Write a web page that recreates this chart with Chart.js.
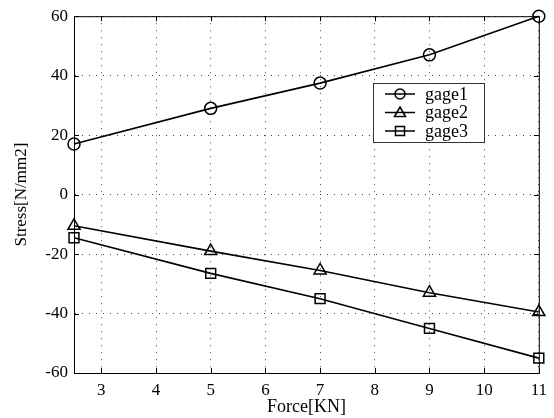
<!DOCTYPE html>
<html>
<head>
<meta charset="utf-8">
<script src="https://cdn.jsdelivr.net/npm/chart.js@4"></script>
<style>
  html, body { margin: 0; padding: 0; background: #fff; }
  #wrap { width: 554px; height: 418px; }
</style>
</head>
<body>
<div id="wrap"><canvas id="stressChart"></canvas></div>
<script>
const force = [2.5, 5, 7, 9, 11];
const gage1 = [17, 29, 37.5, 47, 60];
const gage2 = [-10.5, -19, -25.5, -33, -39.5];
const gage3 = [-14.5, -26.5, -35, -45, -55];
const seriesNames = ["gage1", "gage2", "gage3"];
const xTicks = [3, 4, 5, 6, 7, 8, 9, 10, 11];
const yTicks = [-60, -40, -20, 0, 20, 40, 60];

const serif = "'Liberation Serif', 'Times New Roman', serif";
const markers = ["circle", "triangle", "rect"];
const markerSize = [6, 7, 7];

function toPoints(ys) {
  return ys.map((y, i) => ({ x: force[i], y: y }));
}

// box round the plot, inward ticks on all four sides, legend inside the axes
const framePlugin = {
  id: "frame",
  afterDatasetsDraw(chart) {
    const { ctx, chartArea: a } = chart;
    const xs = chart.scales.x, ys = chart.scales.y;
    ctx.save();
    ctx.strokeStyle = "#000";
    ctx.lineWidth = 1;
    ctx.strokeRect(a.left + 0.5, a.top + 0.5, a.right - a.left, a.bottom - a.top);
    ctx.beginPath();
    xTicks.forEach((v) => {
      const px = Math.round(xs.getPixelForValue(v)) + 0.5;
      ctx.moveTo(px, a.bottom); ctx.lineTo(px, a.bottom - 5);
      ctx.moveTo(px, a.top); ctx.lineTo(px, a.top + 5);
    });
    yTicks.forEach((v) => {
      const py = Math.round(ys.getPixelForValue(v)) + 0.5;
      ctx.moveTo(a.left, py); ctx.lineTo(a.left + 5, py);
      ctx.moveTo(a.right, py); ctx.lineTo(a.right - 5, py);
    });
    ctx.stroke();

    // legend
    const bx = 373, by = 83, bw = 111, bh = 59;
    ctx.fillStyle = "#fff";
    ctx.fillRect(bx, by, bw, bh);
    ctx.strokeStyle = "#333";
    ctx.strokeRect(bx + 0.5, by + 0.5, bw, bh);
    ctx.font = "18px " + serif;
    ctx.textBaseline = "middle";
    chart.data.datasets.forEach((ds, i) => {
      const cy = by + 11 + i * 18.5;
      ctx.strokeStyle = "#000";
      ctx.lineWidth = 1.5;
      ctx.beginPath();
      ctx.moveTo(385, cy); ctx.lineTo(415, cy);
      ctx.stroke();
      ctx.beginPath();
      if (markers[i] === "circle") {
        ctx.arc(400, cy, 5, 0, Math.PI * 2);
      } else if (markers[i] === "triangle") {
        ctx.moveTo(400, cy - 5.5); ctx.lineTo(405.5, cy + 4); ctx.lineTo(394.5, cy + 4); ctx.closePath();
      } else {
        ctx.rect(395.5, cy - 4.5, 9, 9);
      }
      ctx.stroke();
      ctx.fillStyle = "#000";
      ctx.fillText(ds.label, 425, cy + 1);
    });
    ctx.restore();
  }
};

const ctx = document.getElementById("stressChart").getContext("2d");
const chart = new Chart(ctx, {
  type: "line",
  data: {
    datasets: [gage1, gage2, gage3].map((vals, i) => ({
      label: seriesNames[i],
      data: toPoints(vals),
      borderColor: "#000",
      borderWidth: 1.6,
      pointStyle: markers[i],
      pointRadius: markerSize[i],
      pointBorderWidth: 1.5,
      pointBorderColor: "#000",
      pointBackgroundColor: "rgba(0,0,0,0)",
      tension: 0,
      clip: false
    }))
  },
  options: {
    responsive: true,
    maintainAspectRatio: false,
    animation: false,
    layout: { padding: { left: 0, right: 8, top: 16, bottom: 0 } },
    plugins: {
      legend: { display: false },
      tooltip: { enabled: false }
    },
    scales: {
      x: {
        type: "linear",
        min: 2.5,
        max: 11,
        afterBuildTicks: (s) => { s.ticks = xTicks.map((v) => ({ value: v })); },
        afterFit: (s) => { s.height = 45; },
        grid: { color: "#444", lineWidth: 1, drawTicks: false },
        border: { display: true, color: "#000", width: 1, dash: [1, 6] },
        ticks: {
          color: "#000",
          padding: 7,
          font: { family: serif, size: 17 },
          maxRotation: 0
        },
        title: {
          display: true,
          text: "Force[KN]",
          color: "#000",
          font: { family: serif, size: 18 },
          padding: { top: 0, bottom: 0 }
        }
      },
      y: {
        type: "linear",
        min: -60,
        max: 60,
        afterBuildTicks: (s) => { s.ticks = yTicks.map((v) => ({ value: v })); },
        afterFit: (s) => { s.width = 74; },
        grid: { color: "#444", lineWidth: 1, drawTicks: false },
        border: { display: true, color: "#000", width: 1, dash: [1, 6] },
        ticks: {
          color: "#000",
          padding: 6,
          font: { family: serif, size: 17 }
        },
        title: {
          display: true,
          text: "Stress[N/mm2]",
          color: "#000",
          font: { family: serif, size: 17 },
          padding: { top: 11, bottom: 0 }
        }
      }
    }
  },
  plugins: [framePlugin]
});
</script>
</body>
</html>
